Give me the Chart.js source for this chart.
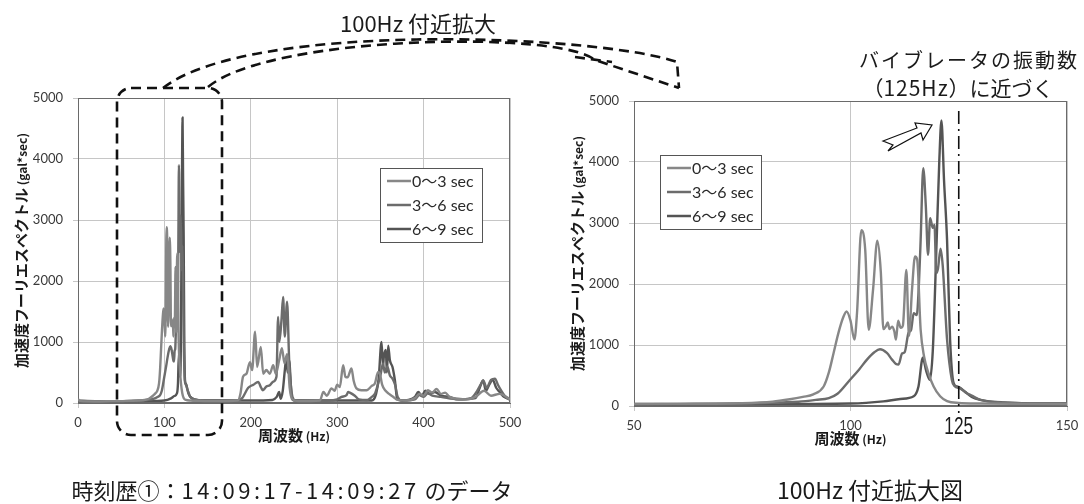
<!DOCTYPE html>
<html>
<head>
<meta charset="utf-8">
<script src="https://cdn.jsdelivr.net/npm/chart.js@4.4.1/dist/chart.umd.min.js"></script>
<style>
  html, body { margin: 0; padding: 0; background: #fff; }
  body { width: 1084px; height: 504px; position: relative; overflow: hidden; font-family: "Noto Sans CJK JP", sans-serif; color: #1a1a1a; }
  canvas { position: absolute; }
  #leftChart { left: 0; top: 80px; }
  #rightChart { left: 560px; top: 80px; }
  svg { position: absolute; left: 0; top: 0; }
  .txt { position: absolute; transform: translate(-50%, -50%); white-space: nowrap; font-size: 22px; line-height: 1; }
</style>
</head>
<body>
<canvas id="leftChart" width="530" height="380"></canvas>
<canvas id="rightChart" width="524" height="380"></canvas>

<svg width="1084" height="504">
  <g fill="none" stroke="#111" stroke-width="2.6" stroke-dasharray="10 6">
    <rect x="117" y="88" width="105" height="347" rx="14"/>
    <path d="M163,88 C250,20 600,35 677,62 L679,88"/>
    <path d="M208,87 C270,35 560,30 595,60 L679,88"/>
    <path d="M575,57 L612,62"/>
  </g>
  <polygon points="883,141 917,128 915,123 932,125 923,140 921,133 888,151 893,145" fill="#fff" stroke="#111" stroke-width="1.2"/>
</svg>

<div class="txt" style="left:418px;top:22px">100Hz 付近拡大</div>
<div class="txt" style="left:969px;top:60px;font-size:20px;letter-spacing:2px">バイブレータの振動数</div>
<div class="txt" style="left:958px;top:87px;font-size:21px">（<span style="letter-spacing:1px">125Hz</span>）に近づく</div>
<div class="txt" style="left:292px;top:489px">時刻歴①：<span style="letter-spacing:3.5px">14:09:17-14:09:27</span> のデータ</div>
<div class="txt" style="left:870px;top:489px;font-size:23px">100Hz 付近拡大図</div>

<script>
// spectra: [frequency Hz, amplitude gal*sec]
const spec0to3 = [
  [0, 60], [3, 30], [20, 25], [40, 30], [60, 35], [75, 45], [82, 70], [86, 110], [89, 150],
  [91.4, 190], [93.8, 320], [95, 550], [96.1, 870], [97.2, 1195], [98.3, 1450], [99.1, 1550],
  [100.0, 1400], [100.9, 1090], [101.5, 1520], [102.5, 2880], [103.4, 2560], [104.2, 1250],
  [105.2, 1900], [106.2, 2710], [107.0, 2200], [107.6, 1260], [108.2, 1310], [108.6, 1370],
  [109.0, 1260], [109.6, 1300], [110.1, 1230], [110.5, 1090], [111.0, 1400], [111.6, 1280],
  [112.1, 1320], [112.9, 2230], [113.5, 1150], [114.2, 1900], [114.9, 2450], [115.4, 2400],
  [116.2, 1250], [117.0, 810], [118.0, 540], [119.2, 320], [120.7, 160], [122.3, 80], [125, 50],
  [130, 40], [140, 35], [160, 30], [185, 40], [188, 150], [191, 430], [195, 480], [199, 670],
  [201.5, 540], [205, 1170], [207.3, 590], [211.6, 920], [214.3, 480], [218, 540], [222, 480],
  [225.9, 620], [229, 480], [232.8, 700], [236, 900], [239, 650], [242, 800], [245, 250],
  [248, 60], [255, 30], [280, 40], [284, 180], [288, 120], [293.4, 240], [297, 200], [300, 300],
  [303, 260], [306.9, 620], [309.5, 430], [312, 420], [316.5, 565], [319, 370], [322.3, 240],
  [328, 210], [334, 210], [340, 280], [343.6, 320], [347.4, 510], [349.4, 480], [352, 300],
  [356, 200], [360, 150], [365, 100], [370, 50], [380, 40], [390, 80], [395, 150], [400, 120],
  [405, 210], [410, 170], [415, 230], [420, 150], [425, 170], [430, 100], [440, 70], [450, 60],
  [460, 100], [470, 200], [478, 120], [488, 150], [500, 60]
];
const spec3to6 = [
  [0, 40], [20, 30], [60, 35], [80, 50], [88, 70], [92, 100], [95, 130], [97, 200], [99.9, 430],
  [102, 600], [103.8, 760], [105.5, 880], [106.8, 930], [108.4, 870], [109.6, 760], [110.5, 690],
  [111.1, 680], [111.9, 860], [112.5, 880], [113.4, 1200], [114.0, 1250], [114.6, 1520],
  [115.3, 1490], [115.8, 2000], [116.2, 2720], [116.8, 3900], [117.4, 3270], [117.9, 2480],
  [118.4, 3080], [119.0, 2920], [119.4, 2970], [119.8, 2180], [120.2, 2250], [120.8, 2580],
  [121.3, 2300], [122.3, 1090], [123.4, 430], [124.0, 330], [125.3, 290], [126.9, 210],
  [128, 170], [130, 100], [135, 60], [150, 40], [185, 40], [190, 80], [197, 250], [203, 300],
  [208.5, 345], [212, 250], [214, 210], [218, 270], [222, 290], [226, 350], [229.7, 430],
  [231.6, 1410], [233, 1000], [235.5, 1360], [237.4, 1740], [239.3, 1090], [242, 1660],
  [244.4, 700], [245.9, 370], [248.2, 100], [252, 40], [290, 40], [300, 60], [305, 100],
  [310.8, 130], [312.7, 180], [314.6, 170], [320.4, 120], [325, 60], [335, 50], [340, 100],
  [343.6, 150], [347, 300], [350, 450], [353, 650], [355, 500], [358, 600], [361, 450],
  [364, 400], [367, 300], [370, 100], [375, 40], [390, 60], [395, 130], [400, 100], [405, 160],
  [410, 120], [420, 100], [440, 60], [455, 80], [462, 200], [466, 300], [469, 370], [473, 250],
  [478, 380], [482.6, 400], [486, 300], [490, 200], [495, 100], [500, 50]
];
const spec6to9 = [
  [0, 30], [50, 30], [90, 35], [100, 40], [107.6, 76], [111.5, 115], [114.6, 160], [115.7, 320],
  [116.7, 790], [117.5, 570], [118.3, 430], [119.0, 900], [119.9, 2720], [120.5, 4000],
  [121.0, 4680], [121.6, 3700], [122.3, 2720], [123.0, 1090], [123.8, 380], [124.6, 320],
  [125.3, 300], [126.5, 230], [128, 150], [130, 100], [135, 60], [150, 40], [200, 40], [225, 50],
  [230, 100], [232.8, 180], [234.5, 70], [237, 200], [239.4, 540], [241.3, 760], [242.5, 500],
  [244.4, 700], [247, 150], [250, 40], [300, 40], [340, 40], [345, 150], [348, 400], [351.3, 1000],
  [353, 600], [354, 760], [356.3, 870], [357.5, 500], [359, 940], [361, 700], [364, 590],
  [366.8, 370], [369.5, 60], [375, 40], [390, 100], [393.8, 180], [398, 120], [402, 200],
  [407, 150], [413, 180], [420, 120], [430, 100], [440, 60], [460, 80], [465, 250], [469, 370],
  [472, 200], [476, 300], [480, 380], [484, 250], [488, 180], [493, 100], [500, 60]
];

const seriesLabels = ['0～3 sec', '3～6 sec', '6～9 sec'];
const freqTicksFull = [0, 100, 200, 300, 400, 500];
const freqTicksZoom = [50, 100, 150];
const ampTicks = [0, 1000, 2000, 3000, 4000, 5000];
const vibratorHz = 125;

const seriesColors = ['#878787', '#6c6c6c', '#545454'];
const jp = '"Noto Sans CJK JP"';

function drawParts(ctx, parts, x, y, angle) {
  ctx.save();
  ctx.translate(x, y);
  ctx.rotate(angle);
  ctx.fillStyle = '#1a1a1a';
  ctx.textBaseline = 'alphabetic';
  let total = 0;
  parts.forEach(p => { ctx.font = p[1]; total += ctx.measureText(p[0]).width; });
  let cx = -total / 2;
  parts.forEach(p => {
    ctx.font = p[1];
    ctx.fillText(p[0], cx, 5);
    cx += ctx.measureText(p[0]).width;
  });
  ctx.restore();
}

const deco = {
  id: 'deco',
  beforeDatasetsDraw(chart) {
    const { ctx, chartArea: a } = chart;
    ctx.save();
    ctx.strokeStyle = '#6a6a6a';
    ctx.lineWidth = 1;
    ctx.strokeRect(a.left + 0.5, a.top + 0.5, a.width - 1, a.height - 1);
    ctx.restore();
  },
  afterDraw(chart, args, o) {
    const { ctx, chartArea: a } = chart;
    drawParts(ctx, [['周波数', `bold 15px ${jp}`], [' (Hz)', `bold 12px ${jp}`]],
      (a.left + a.right) / 2, a.bottom + 33, 0);
    drawParts(ctx, [['加速度フーリエスペクトル', `bold 15px ${jp}`], [' (gal*sec)', `bold 12px ${jp}`]],
      a.left - 56, (a.top + a.bottom) / 2, -Math.PI / 2);

    // legend box
    const L = o.legend;
    ctx.save();
    ctx.fillStyle = '#fff';
    ctx.fillRect(L.x, L.y, L.w, L.h);
    ctx.strokeStyle = '#555';
    ctx.lineWidth = 1;
    ctx.strokeRect(L.x + 0.5, L.y + 0.5, L.w, L.h);
    chart.data.datasets.forEach((ds, i) => {
      const y = L.y + 13 + i * 24;
      ctx.strokeStyle = ds.borderColor;
      ctx.lineWidth = 2.5;
      ctx.beginPath();
      ctx.moveTo(L.x + 7, y);
      ctx.lineTo(L.x + 31, y);
      ctx.stroke();
      ctx.fillStyle = '#2a2a2a';
      ctx.font = `16px Lato, ${jp}`;
      ctx.textBaseline = 'middle';
      ctx.fillText(ds.label, L.x + 32, y + 1);
    });
    ctx.restore();

    if (o.markHz) {
      const x = chart.scales.x.getPixelForValue(o.markHz);
      ctx.save();
      ctx.strokeStyle = '#111';
      ctx.lineWidth = 1.6;
      ctx.setLineDash([13, 5, 2, 5]);
      ctx.beginPath();
      ctx.moveTo(x, a.top + 10);
      ctx.lineTo(x, a.bottom + 7);
      ctx.stroke();
      ctx.setLineDash([]);
      ctx.translate(x, a.bottom + 21);
      ctx.scale(0.72, 1);
      ctx.fillStyle = '#1a1a1a';
      ctx.font = '24px "Liberation Sans"';
      ctx.textAlign = 'center';
      ctx.textBaseline = 'middle';
      ctx.fillText(String(o.markHz), 0, 0);
      ctx.restore();
    }
  }
};

function makeChart(id, xMin, xMax, xTicks, yWidth, xHeight, pad, lw, legend, markHz) {
  const all = [spec0to3, spec3to6, spec6to9];
  return new Chart(document.getElementById(id), {
    type: 'line',
    data: {
      datasets: all.map((s, i) => ({
        label: seriesLabels[i],
        data: s.map(([f, v]) => ({ x: f, y: v })),
        borderColor: seriesColors[i],
        borderWidth: lw,
        pointRadius: 0,
        fill: false,
        cubicInterpolationMode: 'monotone',
        borderJoinStyle: 'round'
      }))
    },
    options: {
      responsive: false,
      animation: false,
      events: [],
      layout: { padding: pad },
      plugins: {
        legend: { display: false },
        tooltip: { enabled: false },
        deco: { legend, markHz }
      },
      scales: {
        x: {
          type: 'linear',
          min: xMin,
          max: xMax,
          afterBuildTicks: s => { s.ticks = xTicks.map(v => ({ value: v })); },
          afterFit: s => { s.height = xHeight; s.paddingLeft = 0; s.paddingRight = 0; },
          grid: { color: '#c6c6c6', tickColor: '#c6c6c6', tickLength: 5 },
          border: { color: '#6a6a6a' },
          ticks: { padding: 7, color: '#3a3a3a', font: { family: 'Lato', size: 13 }, maxRotation: 0, callback: v => String(v) }
        },
        y: {
          min: 0,
          max: 5000,
          afterBuildTicks: s => { s.ticks = ampTicks.map(v => ({ value: v })); },
          afterFit: s => { s.width = yWidth; s.paddingTop = 0; s.paddingBottom = 0; },
          grid: { color: '#c6c6c6', tickColor: '#c6c6c6', tickLength: 5 },
          border: { color: '#6a6a6a' },
          ticks: { padding: 10, color: '#3a3a3a', font: { family: 'Lato', size: 13 }, callback: v => String(v) }
        }
      }
    },
    plugins: [deco]
  });
}

makeChart('leftChart', 0, 500, freqTicksFull, 78, 57,
  { top: 18, right: 20, bottom: 0, left: 0 }, 2.4,
  { x: 380, y: 88, w: 102, h: 74 }, null);

makeChart('rightChart', 50, 150, freqTicksZoom, 74, 54,
  { top: 21, right: 17, bottom: 0, left: 0 }, 2.4,
  { x: 100, y: 75, w: 101, h: 74 }, vibratorHz);
</script>
</body>
</html>
